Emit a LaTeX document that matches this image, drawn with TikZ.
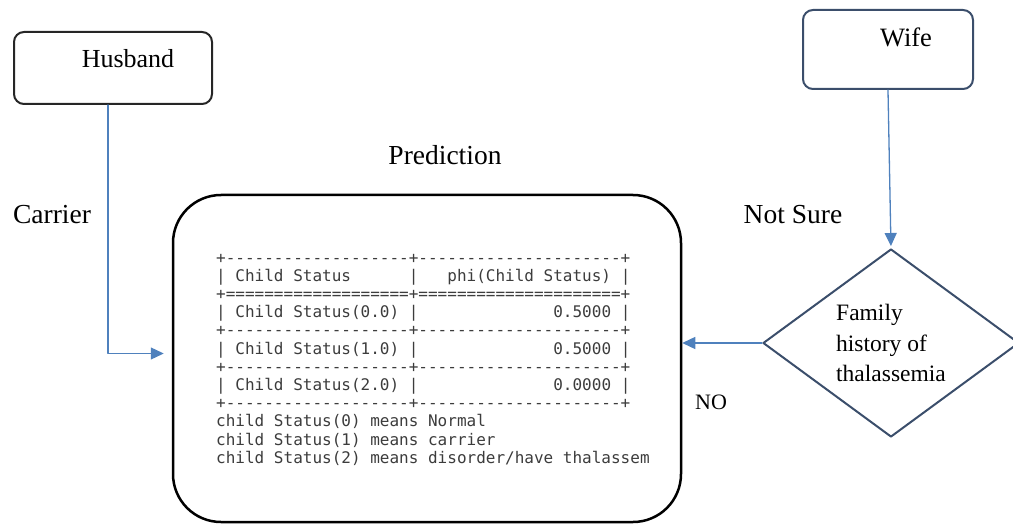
\documentclass[tikz,border=0pt]{standalone}
\usepackage{fontspec}
\setmainfont{Liberation Serif}
\setmonofont{DejaVu Sans Mono}
\usetikzlibrary{arrows.meta,shapes.geometric}
\definecolor{linkblue}{RGB}{79,129,189}
\definecolor{slate}{RGB}{59,78,107}
\definecolor{termgray}{RGB}{60,60,60}
\newcommand{\repchar}[2]{\foreach\k in {1,...,#1}{#2}}

\begin{document}
\begin{tikzpicture}[line cap=round,line join=round,>={Triangle[length=13pt,width=12pt]},x=1pt,y=-1pt,
  box/.style={draw,rounded corners=10pt,line width=2pt},
  lbl/.style={font=\fontsize{27.5}{32}\selectfont,inner sep=0pt},
  mono/.style={font=\ttfamily\fontsize{16}{18}\selectfont,text=termgray,inner sep=0pt,anchor=base west},
  link/.style={->,draw=linkblue,line width=1.3pt}]
\clip(0,0) rectangle (1013,524);
% boxes
\node[box,draw=black!85,minimum width=198pt,minimum height=72pt] (husband) at (113,68) {};
\node[lbl,font=\fontsize{26}{30}\selectfont] (husbandtxt) at (128,59) {Husband};
\node[box,draw=slate,minimum width=170pt,minimum height=79pt] (wife) at (888,49.5) {};
\node[lbl,font=\fontsize{26.5}{30}\selectfont] (wifetxt) at (906,37) {Wife};
\node[draw=black,line width=2.5pt,rounded corners=48pt,minimum width=508pt,minimum height=327pt] (pred) at (427,358.5) {};
\node[diamond,draw=slate,line width=2pt,minimum width=256pt,minimum height=188pt,inner sep=0pt,align=left,font=\fontsize{23.5}{30.5}\selectfont] (hist) at (891,343) {Family\\history of\\thalassemia};
% labels
\node[lbl] (predlbl) at (445,155) {Prediction};
\node[lbl] (carrier) at (52,215) {Carrier};
\node[lbl] (notsure) at (793,215) {Not Sure};
\node[lbl,font=\fontsize{22}{26}\selectfont] (no) at (711,402) {NO};
% table output
\foreach \row [count=\i from 0] in {
  {+\repchar{19}{-}+\repchar{21}{-}+},
  {|~Child~Status~~~~~~|~~~phi(Child~Status)~|},
  {+\repchar{19}{=}+\repchar{21}{=}+},
  {|~Child~Status(0.0)~|\repchar{14}{~}0.5000~|},
  {+\repchar{19}{-}+\repchar{21}{-}+},
  {|~Child~Status(1.0)~|\repchar{14}{~}0.5000~|},
  {+\repchar{19}{-}+\repchar{21}{-}+},
  {|~Child~Status(2.0)~|\repchar{14}{~}0.0000~|},
  {+\repchar{19}{-}+\repchar{21}{-}+},
  {child Status(0) means Normal},
  {child Status(1) means carrier},
  {child Status(2) means disorder/have thalassem}}
  \node[mono] (tab\i) at (216,{263+18.2*\i}) {\row};
% connectors
\draw[link,shorten >=8pt] ([xshift=-5pt]husband.south) |- ([yshift=5pt]pred.west);
\draw[link,shorten >=2pt] (wife.south) -- (hist.north);
\draw[link] (hist.west) -- (hist.west -| pred.east);
\end{tikzpicture}
\end{document}
